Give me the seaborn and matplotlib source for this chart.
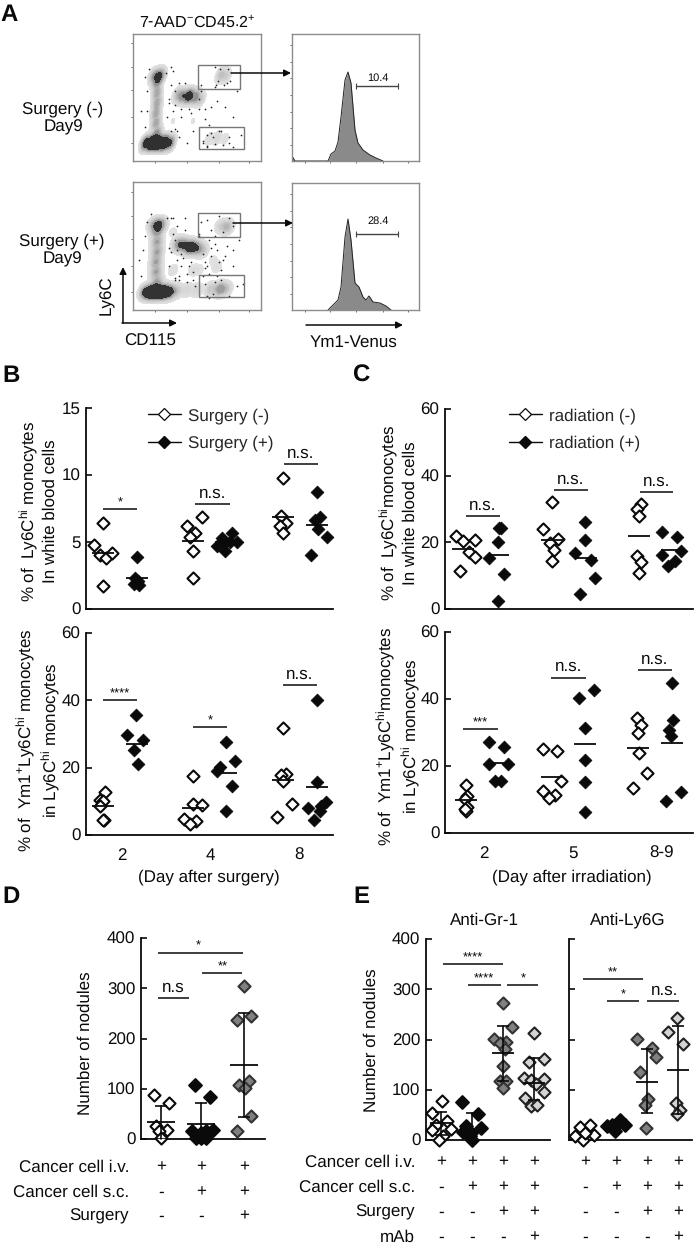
"""
Flow plots and nodule counts, panels A-E
"""
import pandas as pd

import matplotlib
matplotlib.use('Agg')
import matplotlib.pyplot as plt
from matplotlib.lines import Line2D
from matplotlib.patches import Rectangle
import seaborn as sns

W, H = 694, 1244

# panel A, density anchors (channel x, channel y, weight)
flow1_x = [13, 19, 25, 31, 37, 24, 23, 23, 24, 24, 24, 25, 21, 28, 45, 50, 56, 62, 67, 88, 93, 76, 84, 92, 40, 60, 80, 40]
flow1_y = [18, 18, 18, 18, 18, 28, 38, 48, 58, 68, 78, 85, 85, 85, 66, 65, 65, 64, 62, 86, 85, 22, 23, 22, 40, 40, 50, 80]
flow1_w = [7, 14, 14, 12, 5, 3, 2.6, 2.6, 2.6, 2.6, 3, 4, 2.5, 2.5, 2, 4, 7, 4, 1.4, 1.6, 1, 0.4, 0.6, 0.3, 0.15, 0.15, 0.1, 0.1]
flow2_x = [13, 19, 25, 31, 37, 44, 54, 64, 78, 87, 93, 24, 23, 23, 24, 24, 24, 25, 21, 28, 45, 50, 57, 63, 69, 88, 94, 84, 40, 60, 80, 40, 66]
flow2_y = [18, 18, 18, 18, 18, 19, 20, 20, 21, 21, 21, 28, 38, 48, 58, 68, 78, 85, 85, 85, 66, 65, 63, 62, 60, 84, 83, 43, 40, 40, 50, 78, 40]
flow2_w = [7, 14, 14, 12, 6, 1.5, 0.9, 0.9, 1.6, 4, 1.6, 3, 3, 3, 3, 3, 3, 4, 2.5, 2.5, 3, 5, 8, 5, 2, 1, 2.5, 0.4, 0.4, 0.4, 0.25, 0.25, 0.3]

stray1_x = [8, 42, 48, 60, 72, 78, 66, 84, 92, 100, 104, 76, 88, 70, 54, 36, 46, 82, 94, 108, 58, 68, 40, 74,
            12, 14, 34, 36, 14, 38, 33, 12, 16, 38, 44, 40, 42, 70, 74, 78, 82, 86, 90, 96, 74, 80, 96, 100, 83, 87, 91,
            82, 85, 95, 97, 46, 68, 72, 48, 66, 38, 42, 52, 56]
stray1_y = [50, 32, 44, 30, 42, 54, 62, 60, 54, 44, 70, 36, 30, 18, 18, 62, 24, 74, 78, 26, 48, 76, 90, 14,
            34, 50, 44, 58, 70, 76, 88, 84, 92, 30, 30, 50, 56, 20, 26, 28, 17, 30, 16, 24, 15, 24, 18, 14, 76, 92, 76,
            94, 80, 92, 80, 78, 70, 52, 52, 52, 94, 70, 78, 52]
stray2_x = [6, 42, 48, 60, 72, 78, 66, 84, 92, 100, 106, 76, 88, 70, 54, 36, 46, 82, 94, 110, 58, 68, 40, 74, 84, 86, 82, 100, 52, 62,
            8, 10, 36, 38, 12, 40, 34, 14, 18, 42, 46, 44, 48, 72, 76, 80, 88, 96, 104, 74, 50, 56, 60, 70, 78, 90, 100, 44, 52, 66,
            74, 78, 86, 90, 96, 76, 82, 72, 54, 42, 38, 44]
stray2_y = [50, 32, 44, 30, 42, 54, 74, 60, 54, 44, 70, 36, 40, 34, 28, 62, 30, 74, 64, 26, 48, 88, 92, 14, 34, 48, 28, 84, 92, 24,
            34, 60, 44, 58, 74, 76, 92, 88, 96, 30, 34, 50, 56, 26, 12, 16, 30, 14, 24, 44, 52, 44, 38, 56, 62, 50, 60, 60, 80, 76,
            90, 80, 94, 78, 92, 70, 66, 48, 36, 70, 92, 84]

# panel A histograms (channel, height)
hist1_x = [0, 3, 36, 39, 43, 46, 49, 53, 56, 59, 63, 66, 71, 78, 84, 91]
hist1_y = [5, 0, 0, 7, 10, 19, 44, 81, 89, 78, 31, 18, 11, 6, 3, 0]
hist2_x = [36, 41, 46, 49, 53, 56, 59, 63, 67, 71, 74, 77, 81, 88, 94, 99]
hist2_y = [0, 5, 10, 23, 73, 91, 70, 27, 23, 13, 10, 14, 8, 7, 4, 0]

# panel B
b_days = ['2', '4', '8']
b1_neg = [[4.8, 6.4, 4.0, 3.8, 4.2, 1.7], [6.2, 6.85, 5.7, 5.35, 4.3, 2.3], [9.75, 6.95, 6.4, 6.2, 5.65]]
b1_neg_jit = [[-9, 0, -3, 3, 9, 0], [-6, 9, 2, -3, 0, 0], [0, -2, 3, -3, 0]]
b1_pos = [[3.9, 2.3, 2.1, 1.9, 1.8, 2.0], [5.65, 5.0, 5.3, 4.7, 4.35, 5.0, 4.9], [8.75, 6.9, 6.65, 6.0, 5.35, 4.05]]
b1_pos_jit = [[0, -2, 1, -3, 2, 0], [6, 11, -4, -9, -1, 4, -2], [0, 3, -2, 1, 10, -6]]
b1_neg_mean = [4.2, 5.1, 6.85]
b1_pos_mean = [2.3, 5.0, 6.3]

b2_neg = [[12.8, 10.5, 10.2, 8.7, 4.55, 4.4], [17.4, 9.3, 8.8, 4.85, 4.05, 3.4], [31.8, 18.2, 17.9, 15.9, 9.3, 5.3]]
b2_neg_jit = [[2, -3, 0, -3, 1, 0], [0, 0, 9, -9, 3, -3], [0, 3, -2, 0, 9, -6]]
b2_pos = [[35.7, 29.8, 28.3, 25.3, 21.2], [27.6, 22.1, 20.1, 18.9, 14.5, 7.2], [40.2, 15.6, 9.8, 7.9, 7, 4.55, 8.5]]
b2_pos_jit = [[-1, -10, 6, -3, 1], [0, 9, -6, -9, 6, 0], [0, 0, 9, -9, 3, -3, 4]]
b2_neg_mean = [8.7, 8.1, 16.4]
b2_pos_mean = [27, 18.4, 14.2]

# panel C
c_days = ['2', '5', '8-9']
c1_neg = [[22, 20.4, 20.6, 17.2, 15.5, 11.4], [32, 23.9, 20.9, 19.7, 17.6, 14.4], [31.5, 30, 27.9, 16, 14.1, 10.7]]
c1_neg_jit = [[-7, 0, 12, 6, 12, -3], [0, -9, 6, -2, 2, 0], [2, -2, 0, -2, 2, 0]]
c1_pos = [[24.2, 24.4, 20.2, 15.2, 10.5, 2.5], [26.1, 20.6, 16.7, 14.7, 9.2, 4.4], [23, 21.6, 17.4, 16.2, 14.5, 12.9]]
c1_pos_jit = [[1, 3, 0, -9, 6, 0], [-1, -1, -11, 5, 9, -6], [-10, 5, 9, -10, 3, -4]]
c1_neg_mean = [17.9, 20.6, 21.9]
c1_pos_mean = [16.3, 15.2, 17.7]

c2_neg = [[14.4, 10.9, 10.2, 7.8, 6.7, 7.2], [25, 24.4, 15.5, 12.4, 11.2, 10.4], [34.2, 32.1, 30, 24, 17.9, 13.4]]
c2_neg_jit = [[0, 1, -1, 1, 0, -1], [-9, 5, 9, -9, 3, -3], [-1, 3, 0, 1, 9, -5]]
c2_pos = [[27.2, 25.8, 20.6, 20.7, 15.4, 15.4], [42.7, 40.3, 31.4, 21.9, 15.2, 6.4], [44.8, 33.6, 30.8, 29, 12.2, 9.7]]
c2_pos_jit = [[-9, 6, -9, 10, -3, 3], [9, -6, 0, 0, 0, 0], [0, 1, -3, -1, 9, -6]]
c2_neg_mean = [10, 16.6, 25.5]
c2_pos_mean = [21, 26.5, 26.8]

# panel D
d_vals = [[88, 72, 26, 17, 15, 1], [108, 84, 15, 17, 1, 1, 1, 11, 15], [304, 244, 236, 116, 108, 101, 46, 15]]
d_jit = [[-7, 8, -5, 6, -2, 0], [-6, 9, -9, 12, -5, 5, 0, 0, 5], [0, 7, -7, 5, -5, 1, 7, -7]]
d_mean = [33, 30, 147]
d_hi = [66, 71, 250]
d_lo = [0, 0, 43]
d_rows = ['Cancer cell i.v.', 'Cancer cell s.c.', 'Surgery']
d_signs = [['+', '+', '+'], ['-', '+', '+'], ['-', '-', '+']]

# panel E
e1_vals = [[78, 53, 38, 30, 22, 19, 7, 0], [76, 52, 27, 23, 15, 13, 0, 7],
           [272, 225, 201, 196, 193, 181, 147, 118, 118, 103],
           [212, 161, 156, 123, 122, 120, 112, 96, 83, 68, 69]]
e1_jit = [[1, -9, 6, -5, 10, -9, 2, -2], [-10, 6, -6, 9, -9, -1, 0, -2],
          [0, 9, -9, 3, -3, 2, 0, -3, 3, 0], [0, 10, -5, -10, 10, -3, 2, 10, -9, -3, 3]]
e1_mean = [33, 22, 173, 113]
e1_hi = [55, 53, 226, 164]
e1_lo = [10, 0, 117, 80]
e2_vals = [[25, 29, 7, 9, 0, 13], [28, 30, 40, 30, 17, 33], [201, 183, 166, 135, 82, 70, 23], [242, 214, 192, 73, 60, 51]]
e2_jit = [[-5, 5, -10, 9, -2, 0], [-9, -4, 4, 9, -1, 2], [-10, 5, 9, -7, 1, -2, -1], [-1, -10, 5, -2, 2, -1]]
e2_mean = [None, None, 116, 139]
e2_hi = [None, None, 181, 227]
e2_lo = [None, None, 53, 51]
e_rows = ['Cancer cell i.v.', 'Cancer cell s.c.', 'Surgery', 'mAb']
e_signs = [['+', '+', '+', '+'], ['-', '+', '+', '+'], ['-', '-', '+', '+'], ['-', '-', '-', '+']]

sns.set_theme(style='ticks')
plt.rcParams['font.family'] = ['Liberation Sans', 'DejaVu Sans']
plt.rcParams['mathtext.fontset'] = 'custom'
plt.rcParams['mathtext.rm'] = 'Liberation Sans'
plt.rcParams['mathtext.default'] = 'regular'
plt.rcParams['text.hinting'] = 'no_hinting'
plt.rcParams['text.hinting_factor'] = 1

FS = 12
INK = '#0a0a0a'
density_cmap = sns.blend_palette(['#e2e2e2', '#8a8a8a', '#4a4a4a', '#1c1c1c', '#000000'], as_cmap=True)
fig = plt.figure(figsize=(W / 100, H / 100), dpi=100, facecolor='white')


def txt(x, y, s, size=FS, **kw):
    kw.setdefault('ha', 'center')
    kw.setdefault('va', 'center')
    fig.text(x / W, 1 - y / H, s, fontsize=size, color=INK, **kw)


def make_axes(x0, x1, ytop, ybot):
    return fig.add_axes([x0 / W, 1 - ybot / H, (x1 - x0) / W, (ybot - ytop) / H], facecolor='none')


def flow_axes(ytop, ybot, x0, x1):
    ax = make_axes(x0, x1, ytop, ybot)
    ax.set_facecolor('white')
    for s in ax.spines.values():
        s.set_color('#8c8c8c')
        s.set_linewidth(1.0)
    ax.set_xlim(0, x1 - x0)
    ax.set_ylim(0, ybot - ytop)
    ax.tick_params(labelleft=False, labelbottom=False, direction='out', length=1.5, width=0.5, color='#333333')
    return ax


def dot_plot(ytop, ybot, xs, ys, ws, sx, sy, gates):
    ax = flow_axes(ytop, ybot, 133, 261)
    frame = pd.DataFrame({'x': xs, 'y': ys, 'w': ws})
    sns.kdeplot(data=frame, x='x', y='y', weights='w', fill=True, cmap=density_cmap,
                levels=[0.015, 0.03, 0.05, 0.08, 0.11, 0.15, 0.2, 0.27, 0.36, 0.5, 1],
                bw_method=0.15, gridsize=180, clip=((0, 128), (0, 127)), ax=ax)
    sns.scatterplot(x=sx, y=sy, s=1.5, color='#222222', linewidth=0, ax=ax)
    ax.set(xlabel='', ylabel='', xlim=(0, 128), ylim=(0, ybot - ytop))
    ax.set_xticks([22, 54, 86, 116])
    ax.set_yticks([18, 44, 71, 94, 118])
    for gx, gy, gw, gh in gates:
        ax.add_patch(Rectangle((gx, gy), gw, gh, fill=False, ec='#777777', lw=1.0))
    return ax


def hist_plot(ytop, ybot, xs, ys, x_marker, y_marker, label, ylab):
    ax = flow_axes(ytop, ybot, 292, 419)
    sns.lineplot(x=xs, y=ys, color='#222222', lw=0.7, sort=False, ax=ax)
    ax.fill_between(xs, ys, color='#8a8a8a', lw=0)
    ax.set(xlabel='', ylabel='', xlim=(0, 127), ylim=(0, ybot - ytop))
    ax.set_xticks([13, 38, 64, 91, 116])
    ax.set_yticks([16, 33, 49, 66, 83, 99, 116])
    ax.plot(x_marker, [y_marker, y_marker], color='#444444', lw=1.0, marker='|', ms=4, mew=0.8)
    ax.text(sum(x_marker) / 2 + 1, ylab, label, fontsize=7.8, ha='center', va='center', color=INK)
    return ax


def style_axes(ax, ymax, width, yticks, labels=True):
    ax.set_xlim(0, width)
    ax.set_ylim(0, ymax)
    ax.set_yticks(yticks)
    sns.despine(ax=ax)
    for side in ['left', 'bottom']:
        ax.spines[side].set_linewidth(1.3)
        ax.spines[side].set_color(INK)
    ax.tick_params(axis='y', direction='in', length=4.5, width=1.2, pad=4, labelsize=FS, labelleft=labels, color=INK, labelcolor=INK)
    ax.tick_params(axis='x', length=0, pad=9, labelsize=FS, labelcolor=INK)
    ax.set(xlabel='', ylabel='')


def diamonds(ax, pos, vals, jits, color, edge, size=38, lw=1.5):
    rows = []
    for p, group, jit in zip(pos, vals, jits):
        for v, j in zip(group, jit):
            rows.append({'x': p + j, 'y': v})
    df = pd.DataFrame(rows)
    sns.scatterplot(data=df, x='x', y='y', marker='D', s=size, color=color, edgecolor=edge, linewidth=lw,
                    clip_on=False, zorder=3, legend=False, ax=ax)


def means(ax, pos, mean, half=11):
    for p, m in zip(pos, mean):
        if m is not None:
            ax.plot([p - half, p + half], [m, m], color=INK, lw=1.3, zorder=5, solid_capstyle='butt')


def errs(ax, pos, hi, lo, cap=6):
    for p, h, l in zip(pos, hi, lo):
        if h is None:
            continue
        ax.plot([p, p], [l, h], color=INK, lw=1.2, zorder=5, clip_on=False)
        for v in [h, l]:
            ax.plot([p - cap, p + cap], [v, v], color=INK, lw=1.2, zorder=5, solid_capstyle='butt')


def sig(ax, x0, x1, y, label, lx=None):
    lx = (x0 + x1) / 2 if lx is None else lx
    ax.plot([x0, x1], [y, y], color=INK, lw=1.1, solid_capstyle='butt', zorder=4, clip_on=False)
    star = label.startswith('*')
    ax.annotate(label, (lx, y), xytext=(0, 0 if star else 2), textcoords='offset points', ha='center', va='bottom',
                fontsize=9.5 if star else FS, color=INK)


def legend_box(ax, x, y, labels):
    handles = [Line2D([], [], color=INK, lw=1, marker='D', ms=6, mfc='white', mec=INK, mew=0.9),
               Line2D([], [], color=INK, lw=1, marker='D', ms=6.5, mfc=INK, mec=INK)]
    ax.legend(handles, labels, loc='upper left', bbox_to_anchor=(x / W, 1 - y / H), bbox_transform=fig.transFigure,
              frameon=False, fontsize=FS, handlelength=1.95, handletextpad=0.45, labelspacing=0.68, borderpad=0, borderaxespad=0)


def scatter_panel(x0, x1, ytop, ybot, ymax, yticks, neg_pos, pos_pos, neg, neg_jit, pos, pos_jit, neg_mean, pos_mean, ticks, ticklabels):
    ax = make_axes(x0, x1, ytop, ybot)
    diamonds(ax, neg_pos, neg, neg_jit, 'white', INK)
    diamonds(ax, pos_pos, pos, pos_jit, INK, INK, size=42, lw=0.6)
    means(ax, neg_pos, neg_mean)
    means(ax, pos_pos, pos_mean)
    style_axes(ax, ymax, x1 - x0, yticks)
    ax.set_xticks(ticks)
    ax.set_xticklabels(ticklabels if ticklabels else [''] * len(ticks))
    return ax


# panel A
dot_plot(34, 161, flow1_x, flow1_y, flow1_w, stray1_x, stray1_y, [(65, 72, 42, 24), (66, 12, 45, 22)])
dot_plot(182, 310, flow2_x, flow2_y, flow2_w, stray2_x, stray2_y, [(65, 73, 42, 24), (66, 13, 45, 22)])
hist_plot(34, 161, hist1_x, hist1_y, [64, 106], 75, '10.4', 83)
hist_plot(183, 310, hist2_x, hist2_y, [64, 106], 76, '28.4', 89)

txt(0, 15, 'A', size=17, weight='bold', ha='left')
txt(197, 22, '7-AAD$^{-}$CD45.2$^{+}$', size=11.5)
txt(63, 118, 'Surgery (-)\nDay9')
txt(62, 250, 'Surgery (+)\nDay9')
txt(107, 295, 'Ly6C', rotation=90)
txt(150, 341, 'CD115')
txt(354, 342, 'Ym1-Venus')

overlay = fig.add_axes([0, 0, 1, 1], facecolor='none')
overlay.set_xlim(0, W)
overlay.set_ylim(H, 0)
overlay.axis('off')
for start, end in [((231, 73), (291, 73)), ((233, 223), (293, 223)), ((123, 323), (123, 267)),
                   ((122, 323), (177, 323)), ((306, 325), (403, 325))]:
    overlay.annotate('', xy=end, xytext=start, arrowprops=dict(arrowstyle='-|>', color=INK, lw=1.1, shrinkA=0, shrinkB=0, mutation_scale=10))

# panel B
b_neg_x = [17, 107, 197]
b_pos_x = [51, 140, 231]
b_ticks = [36, 124, 213]
ax = scatter_panel(86, 333, 408, 609, 15, [0, 5, 10, 15], b_neg_x, b_pos_x, b1_neg, b1_neg_jit, b1_pos, b1_pos_jit,
                   b1_neg_mean, b1_pos_mean, b_ticks, None)
sig(ax, 17, 51, 7.46, '*')
sig(ax, 109, 144, 7.86, 'n.s.')
sig(ax, 198, 232, 10.8, 'n.s.')
legend_box(ax, 148, 408, ['Surgery (-)', 'Surgery (+)'])

ax = scatter_panel(86, 333, 633, 835, 60, [0, 20, 40, 60], b_neg_x, b_pos_x, b2_neg, b2_neg_jit, b2_pos, b2_pos_jit,
                   b2_neg_mean, b2_pos_mean, b_ticks, b_days)
sig(ax, 17, 51, 40.1, '****')
sig(ax, 107, 141, 32, '*')
sig(ax, 197, 231, 44.6, 'n.s.')

txt(2, 376, 'B', size=17, weight='bold', ha='left')
txt(38, 511, '% of  Ly6C$^{hi}$ monocytes\nIn white blood cells', rotation=90, linespacing=1.15)
txt(38, 740, '% of  Ym1$^{+}$Ly6C$^{hi}$ monocytes\nin Ly6C$^{hi}$ monocytes', rotation=90, linespacing=1.15)
txt(209, 877, '(Day after surgery)')

# panel C
c_neg_x = [18, 107, 194]
c_pos_x = [53, 141, 227]
c_ticks = [39, 128, 217]
ax = scatter_panel(445, 693, 409, 609, 60, [0, 20, 40, 60], c_neg_x, c_pos_x, c1_neg, c1_neg_jit, c1_pos, c1_pos_jit,
                   c1_neg_mean, c1_pos_mean, c_ticks, None)
sig(ax, 21, 55, 27.9, 'n.s.')
sig(ax, 109, 143, 35.8, 'n.s.')
sig(ax, 195, 228, 35.1, 'n.s.')
legend_box(ax, 509, 408, ['radiation (-)', 'radiation (+)'])

ax = scatter_panel(445, 693, 632, 833, 60, [0, 20, 40, 60], [21, 107, 193], [53, 140, 227], c2_neg, c2_neg_jit, c2_pos, c2_pos_jit,
                   c2_neg_mean, c2_pos_mean, c_ticks, c_days)
sig(ax, 18, 53, 31.1, '***')
sig(ax, 106, 141, 46.4, 'n.s.')
sig(ax, 193, 227, 48.6, 'n.s.')

txt(352, 376, 'C', size=17, weight='bold', ha='left')
txt(398, 513, '% of  Ly6C$^{hi}$monocytes\nIn white blood cells', rotation=90, linespacing=1.15)
txt(398, 736, '% of  Ym1$^{+}$Ly6C$^{hi}$monocytes\nin Ly6C$^{hi}$ monocytes', rotation=90, linespacing=1.15)
txt(572, 877, '(Day after irradiation)')

# panel D
d_x = [20, 60, 103]
d_colors = ['white', INK, '#808080']
d_edges = [INK, INK, '#333333']
ax = make_axes(141, 265, 938, 1139)
for i in range(3):
    diamonds(ax, [d_x[i]], [d_vals[i]], [d_jit[i]], d_colors[i], d_edges[i], size=38 if i != 1 else 42)
means(ax, d_x, d_mean, half=14)
errs(ax, d_x, d_hi, d_lo)
style_axes(ax, 400, 124, [0, 100, 200, 300, 400])
ax.set_xticks([])
sig(ax, 17, 102, 371, '*', 57)
sig(ax, 61, 101, 331, '**', 82)
sig(ax, 17, 48, 280, 'n.s', 32)

txt(2, 897, 'D', size=17, weight='bold', ha='left')
txt(85, 1043, 'Number of nodules', rotation=90)
for row, signs, y in zip(d_rows, d_signs, [1167, 1192, 1216]):
    txt(129, y, row, ha='right')
    for p, s in zip(d_x, signs):
        txt(141 + p, y, s)

# panel E
e_x1 = [15, 46, 77, 108]
e_x2 = [16, 47, 78, 109]
e_colors = ['white', INK, '#808080', '#d4d4d4']
e_edges = [INK, INK, '#333333', '#222222']
ax = make_axes(426, 550, 939, 1140)
for i in range(4):
    diamonds(ax, [e_x1[i]], [e1_vals[i]], [e1_jit[i]], e_colors[i], e_edges[i], size=38 if i != 1 else 42)
means(ax, e_x1, e1_mean, half=11)
errs(ax, e_x1, e1_hi, e1_lo)
style_axes(ax, 400, 124, [0, 100, 200, 300, 400])
ax.set_xticks([])
sig(ax, 17, 77, 350, '****', 47)
sig(ax, 42, 75, 308, '****', 58)
sig(ax, 81, 112, 308, '*', 97)

ax = make_axes(569, 692, 939, 1140)
for i in range(4):
    diamonds(ax, [e_x2[i]], [e2_vals[i]], [e2_jit[i]], e_colors[i], e_edges[i], size=38 if i != 1 else 42)
means(ax, e_x2, e2_mean, half=11)
errs(ax, e_x2, e2_hi, e2_lo)
style_axes(ax, 400, 123, [0, 100, 200, 300, 400], labels=False)
ax.set_xticks([])
sig(ax, 14, 74, 320, '**', 44)
sig(ax, 38, 70, 276, '*', 54)
sig(ax, 78, 110, 276, 'n.s.', 96)

txt(353, 897, 'E', size=17, weight='bold', ha='left')
txt(484, 920, 'Anti-Gr-1')
txt(628, 920, 'Anti-Ly6G')
txt(371, 1040, 'Number of nodules', rotation=90)
for row, signs, y in zip(e_rows, e_signs, [1162, 1187, 1212, 1237]):
    txt(415, y, row, ha='right')
    for p, p2, s in zip(e_x1, e_x2, signs):
        txt(426 + p, y, s)
        txt(569 + p2, y, s)

fig.savefig('out.png', dpi=100)
plt.close(fig)
